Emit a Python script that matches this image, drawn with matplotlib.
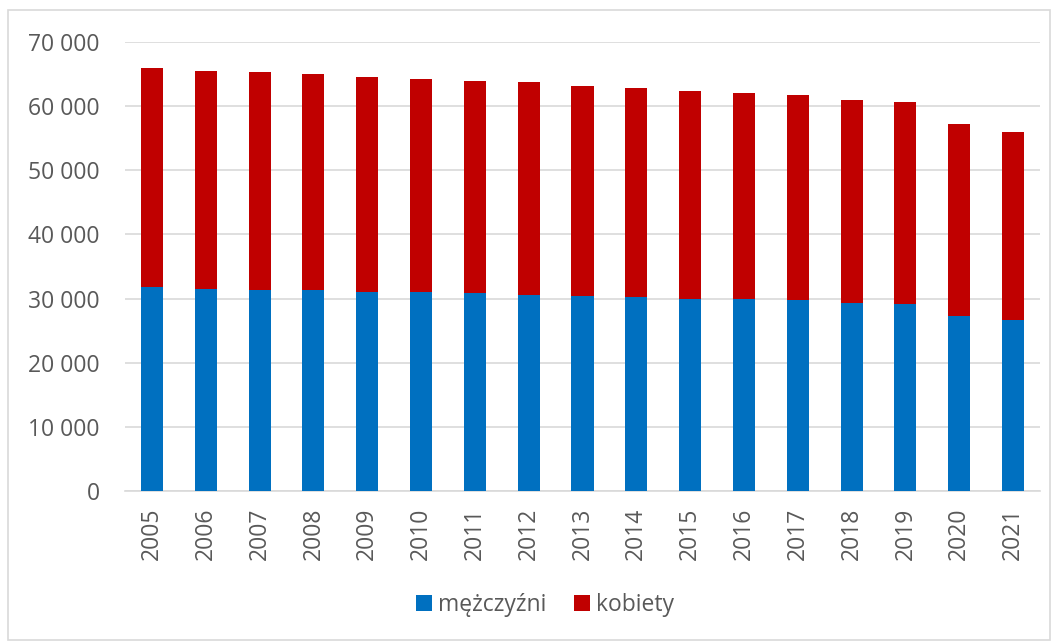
import numpy as np
import matplotlib.pyplot as plt
from matplotlib.patches import Rectangle
from matplotlib.ticker import FuncFormatter

years = [str(y) for y in range(2005, 2022)]
total = [65.9, 65.5, 65.3, 65.0, 64.5, 64.3, 63.9, 63.7, 63.2, 62.8,
         62.3, 62.1, 61.7, 61.0, 60.6, 57.2, 55.9]
men = [31.8, 31.5, 31.3, 31.3, 31.1, 31.1, 30.9, 30.6, 30.4, 30.2,
       29.95, 29.95, 29.7, 29.3, 29.1, 27.3, 26.7]
men = [m * 1000 for m in men]
women = [t * 1000 - m for t, m in zip(total, men)]

plt.rcParams['font.family'] = ['Open Sans', 'DejaVu Sans']

fig = plt.figure(figsize=(10.58, 6.44), dpi=100)
ax = fig.add_axes([125 / 1058, 1 - 491 / 644, (1040 - 125) / 1058, (491 - 42) / 644])

x = np.arange(len(years))
ax.bar(x, men, width=0.41, color='#0070c0', label='mężczyźni', zorder=3)
ax.bar(x, women, width=0.41, bottom=men, color='#c00000', label='kobiety', zorder=3)

ax.set_xlim(-0.5, len(years) - 0.5)
ax.set_ylim(0, 70000)
ax.set_yticks(range(0, 70001, 10000))
ax.yaxis.set_major_formatter(FuncFormatter(lambda v, p: f'{int(v):,}'.replace(',', ' ')))
ax.set_xticks(x)
ax.set_xticklabels(years, rotation=90)
ax.grid(axis='y', color='#d9d9d9', linewidth=1.2, zorder=0)
for s in ['top', 'right', 'left']:
    ax.spines[s].set_visible(False)
ax.spines['bottom'].set_color('#d9d9d9')
ax.spines['bottom'].set_linewidth(1.2)
ax.tick_params(axis='both', length=0, colors='#595959', labelsize=16.5)
ax.tick_params(axis='y', pad=18)
ax.tick_params(axis='x', pad=12)

ax.legend(loc='center', bbox_to_anchor=(545 / 1058, (644 - 605) / 644), bbox_transform=fig.transFigure,
          ncol=2, frameon=False, fontsize=16.5, handlelength=0.7, handleheight=0.7,
          columnspacing=1.2, handletextpad=0.25, labelcolor='#595959')

fig.patches.append(Rectangle((8 / 1058, 4 / 644), 1042 / 1058, 630 / 644, transform=fig.transFigure,
                             fill=False, edgecolor='#d9d9d9', linewidth=1.2))

fig.savefig('out.png', dpi=100)
